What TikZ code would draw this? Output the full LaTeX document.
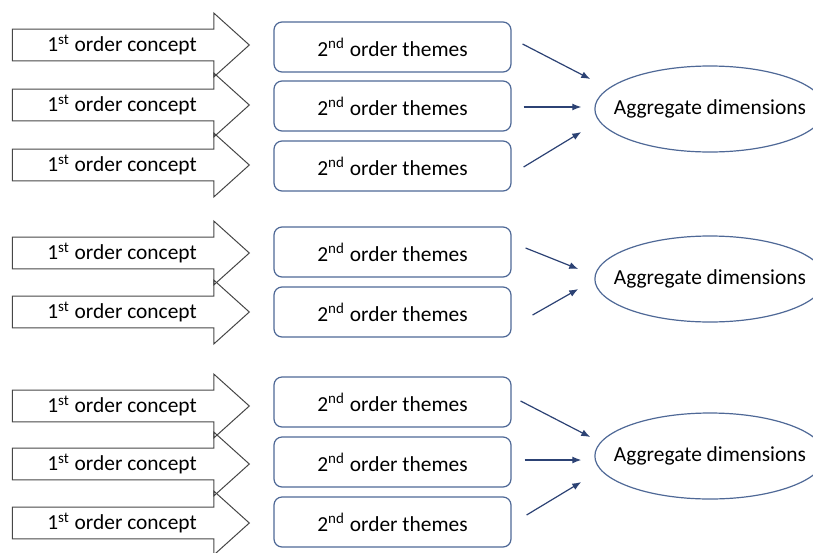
\documentclass[tikz,border=0pt]{standalone}
\usepackage{fontspec}
\setmainfont{Carlito}
\usetikzlibrary{shapes.arrows,shapes.geometric,arrows.meta,calc}
\definecolor{arrowgray}{RGB}{70,70,70}
\definecolor{boxblue}{RGB}{78,104,150}
\definecolor{linkblue}{RGB}{44,66,116}
\tikzset{
	concept/.style={single arrow, draw=arrowgray, line width=0.5pt, single arrow head extend=6.6pt,
		single arrow tip angle=84, minimum height=118.5pt, minimum width=32pt, inner sep=1pt},
	theme/.style={rectangle, rounded corners=4pt, draw=boxblue, line width=0.6pt,
		minimum width=118.5pt, minimum height=25pt},
	aggr/.style={ellipse, draw=boxblue, line width=0.6pt, inner xsep=-7.3pt, inner ysep=0pt,
		minimum width=0pt, minimum height=43pt},
	link/.style={->, draw=linkblue, line width=0.6pt}
}
\newcommand{\firstord}{1\textsuperscript{st} order concept}
\newcommand{\secondord}{2\textsuperscript{nd} order themes}
\begin{document}
\begin{tikzpicture}[x=0.5pt, y=-0.5pt, font=\fontsize{10.7}{12}\selectfont, >={Latex[length=4.5pt,width=3.5pt]}]
	\useasboundingbox (0,0) rectangle (813,552);
	% first order concepts
	\foreach \n/\y in {1/45, 2/105, 3/165, 4/253, 5/312, 6/406, 7/464, 8/523}
	\node[concept] (c\n) at (122,\y) {\firstord};
	% second order themes
	\foreach \n/\y in {1/47, 2/106, 3/166, 4/252, 5/312, 6/402, 7/462, 8/522}
	\node[theme] (t\n) at (392.5,\y) {\secondord};
	% aggregate dimensions
	\foreach \n/\y in {1/109, 2/279, 3/456}
	\node[aggr] (a\n) at (710,\y) {Aggregate dimensions};
	% links
	\draw[link] ($(t1.east)+(11,-3)$) -- ($(a1.west)+(-4,-30)$);
	\draw[link] ($(t2.east)+(12,1)$) -- ($(a1.west)+(-13,-2)$);
	\draw[link] ($(t3.east)+(12,1)$) -- ($(a1.west)+(-13,23)$);
	\draw[link] ($(t4.east)+(14,-4)$) -- ($(a2.west)+(-16,-10)$);
	\draw[link] ($(t5.east)+(21,3)$) -- ($(a2.west)+(-16,10)$);
	\draw[link] ($(t6.east)+(9,-1)$) -- ($(a3.west)+(-4,-19)$);
	\draw[link] ($(t7.east)+(13,-2)$) -- ($(a3.west)+(-13,4)$);
	\draw[link] ($(t8.east)+(15,-7)$) -- ($(a3.west)+(-13,26)$);
\end{tikzpicture}
\end{document}
